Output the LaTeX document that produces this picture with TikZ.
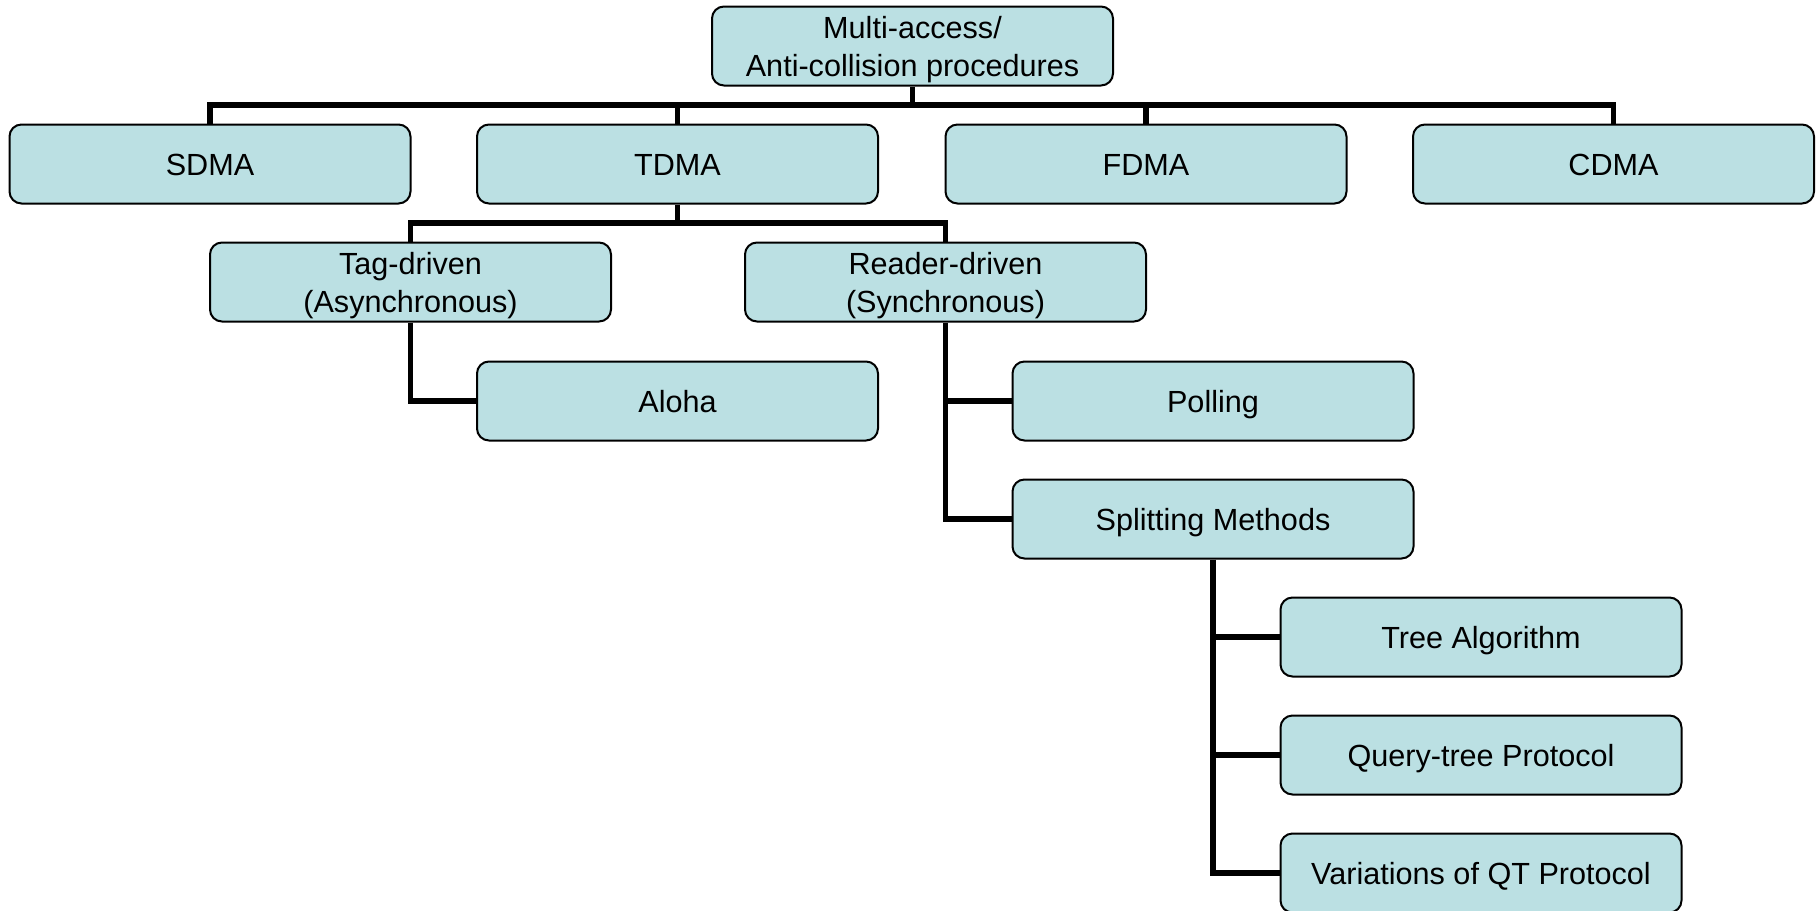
\documentclass[tikz,border=0pt]{standalone}
\usepackage{fontspec}
\setmainfont{Liberation Sans}
\definecolor{boxfill}{HTML}{BBE0E3}
\begin{document}
\begin{tikzpicture}[x=1pt,y=-1pt,
  box/.style={draw=black, line width=2pt, fill=boxfill, rounded corners=12pt,
    minimum width=401pt, minimum height=79pt, align=center, inner sep=0pt,
    font=\fontsize{30.6}{38}\selectfont},
  oneline/.style={box, text height=22pt, text depth=0pt},
  conn/.style={draw=black, line width=5.5pt}]
\useasboundingbox (0,0) rectangle (1819,910);
% nodes
\node[box] (root) at (912.5,46) {Multi-access/\\\smash{Anti-collision procedures}};
\node[oneline] (sdma) at (210,164) {SDMA};
\node[oneline] (tdma) at (677.5,164) {TDMA};
\node[oneline] (fdma) at (1146,164) {FDMA};
\node[oneline] (cdma) at (1613.5,164) {CDMA};
\node[box] (tag) at (410.5,282) {Tag-driven\\\smash{(Asynchronous)}};
\node[box] (reader) at (945.5,282) {Reader-driven\\\smash{(Synchronous)}};
\node[oneline] (aloha) at (677.5,401) {Aloha};
\node[oneline] (poll) at (1213,401) {Polling};
\node[oneline] (split) at (1213,519) {Splitting Methods};
\node[oneline] (tree) at (1481,637) {Tree Algorithm};
\node[oneline] (query) at (1481,755) {Query-tree Protocol};
\node[oneline] (var) at (1481,873) {Variations of QT Protocol};
% connectors
\coordinate (b1) at (912.5,105);
\coordinate (b2) at (677.5,223);
\draw[conn] (root.south) -- (b1);
\draw[conn] (sdma.north) |- (cdma.north |- b1) -- (cdma.north);
\draw[conn] (tdma.north) -- (tdma.north |- b1);
\draw[conn] (fdma.north) -- (fdma.north |- b1);
\draw[conn] (tdma.south) -- (b2);
\draw[conn] (tag.north) |- (reader.north |- b2) -- (reader.north);
\draw[conn] (tag.south) |- (aloha.west);
\draw[conn] (reader.south) |- (split.west);
\draw[conn] (reader.south |- poll.west) -- (poll.west);
\draw[conn] (split.south) |- (var.west);
\draw[conn] (split.south |- tree.west) -- (tree.west);
\draw[conn] (split.south |- query.west) -- (query.west);
\end{tikzpicture}
\end{document}
